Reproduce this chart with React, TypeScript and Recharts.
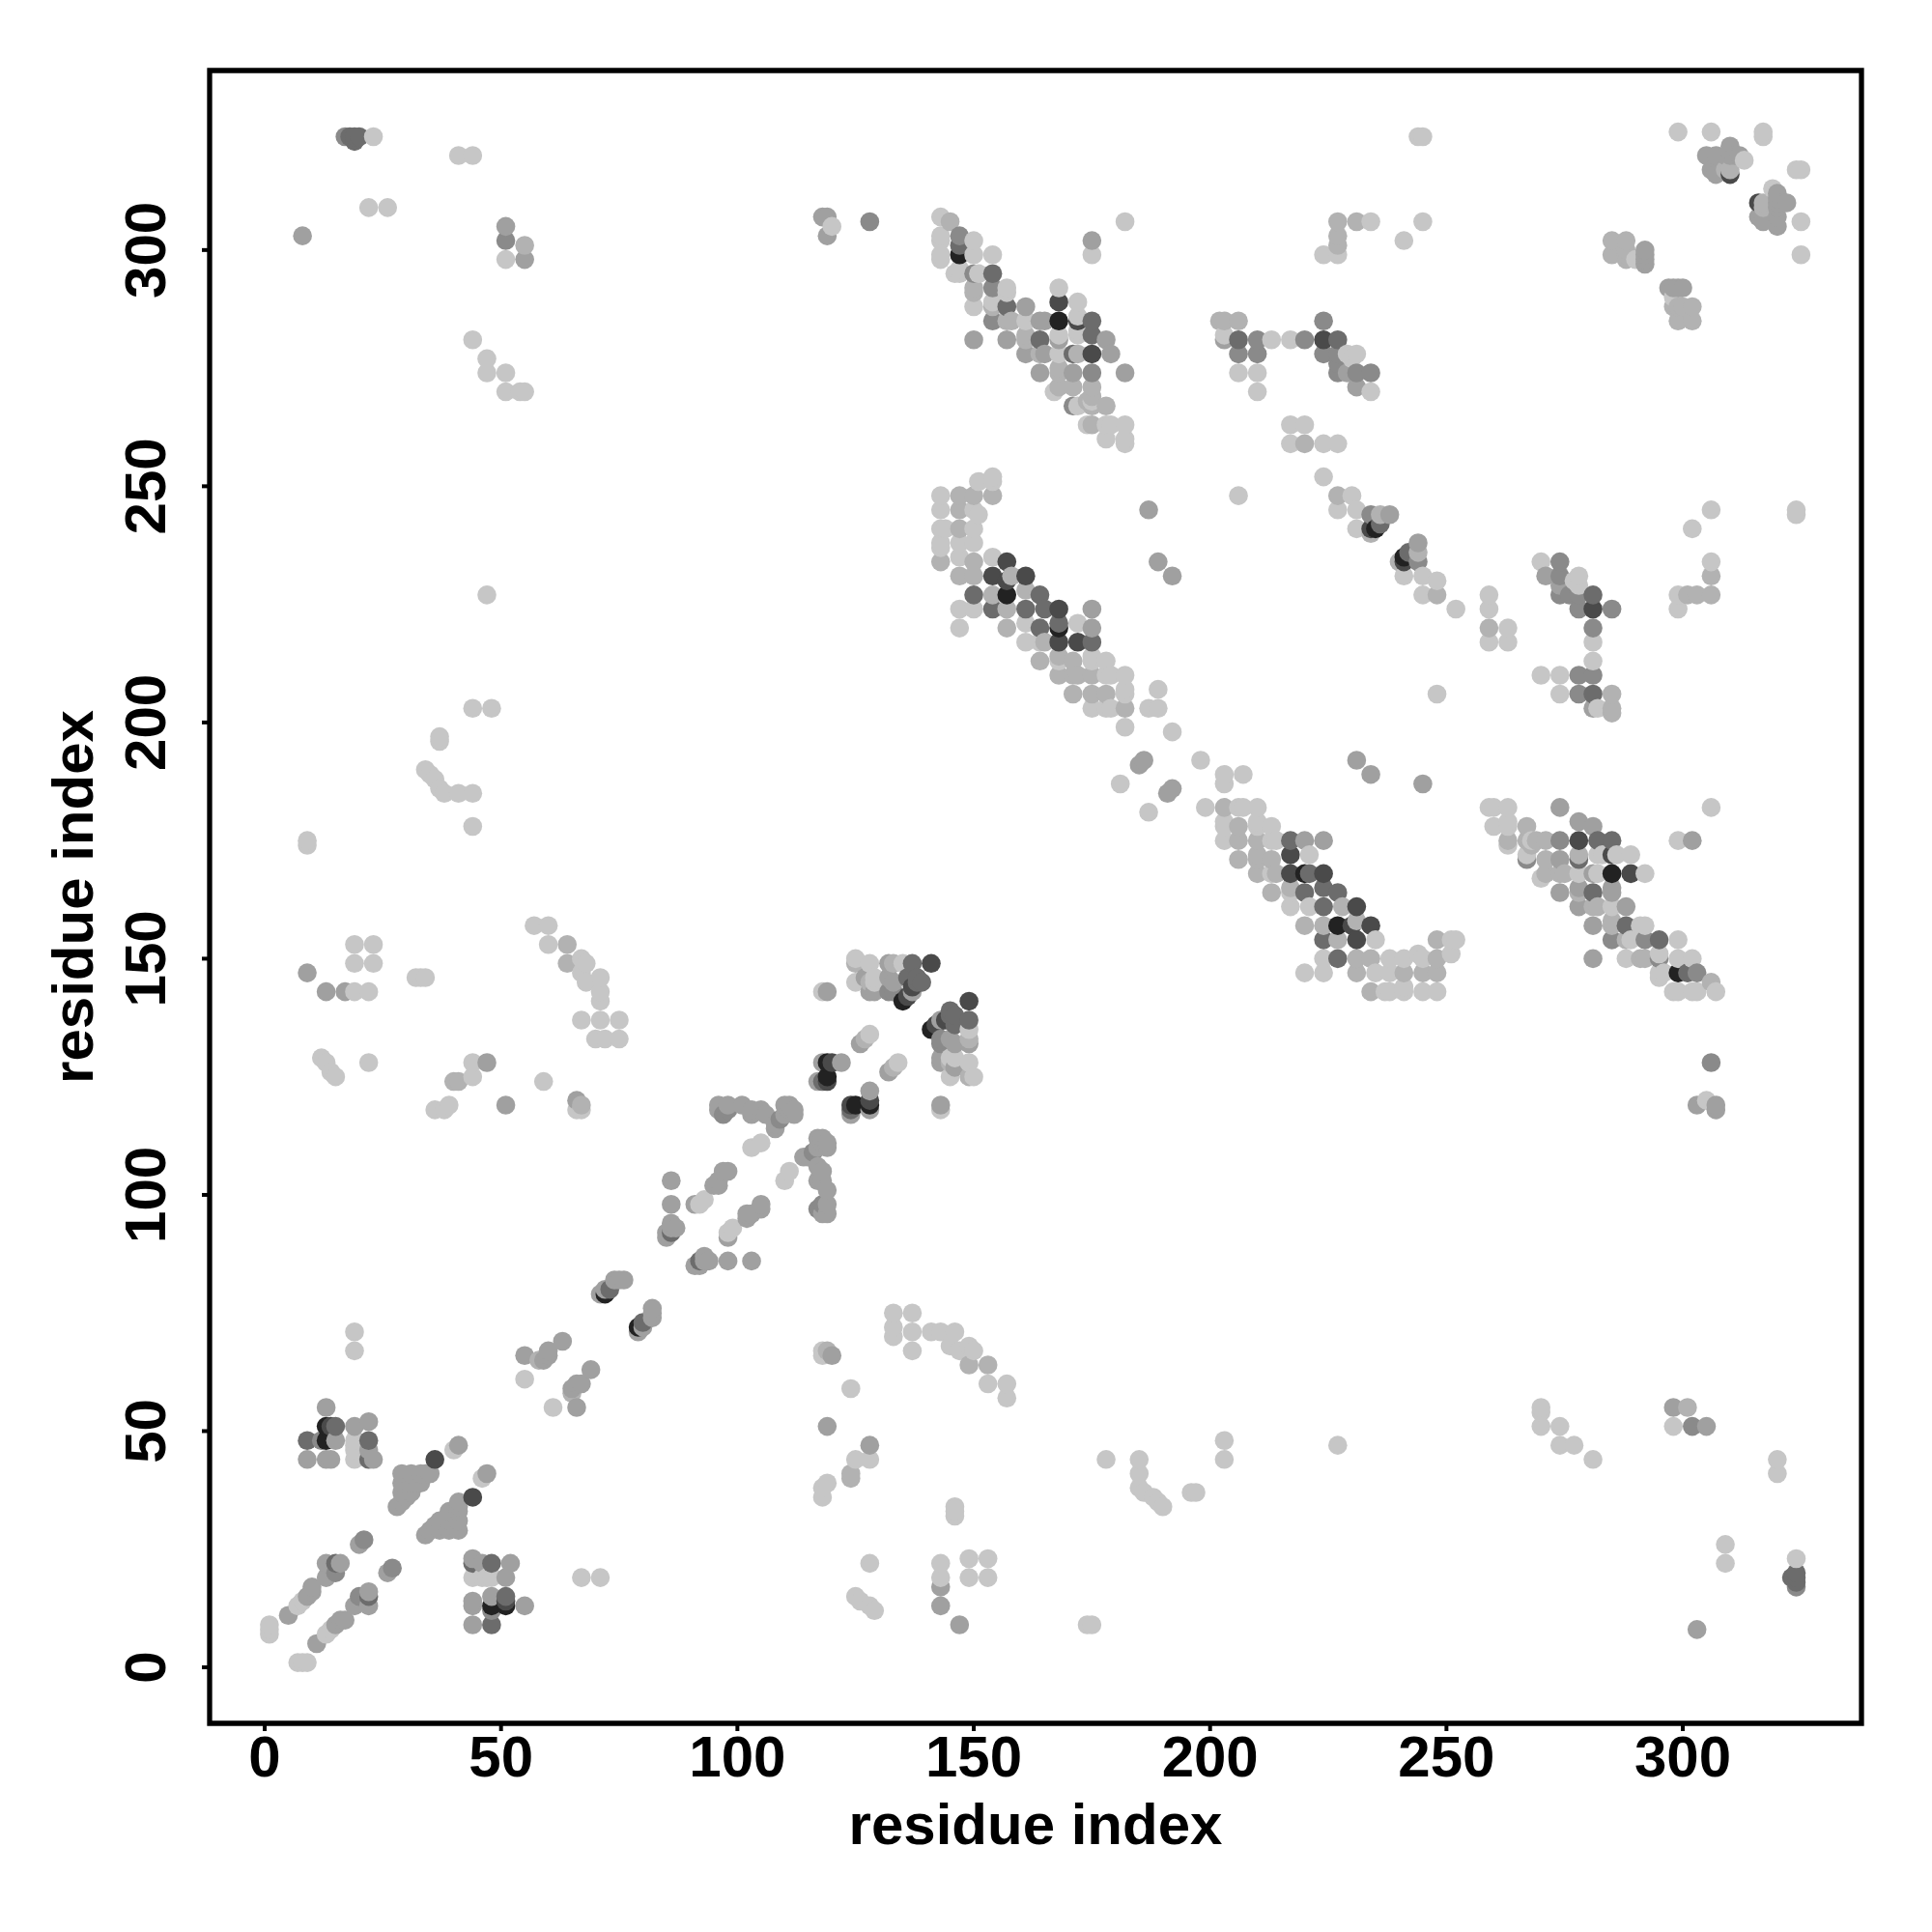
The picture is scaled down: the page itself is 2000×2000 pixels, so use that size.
import { ScatterChart, Scatter, XAxis, YAxis, ReferenceArea } from 'recharts'

// residue contact map, symmetric: only pairs [i, j] with i < j are listed, the mirror is added below
const contactsPale = [
  [1, 7], [1, 8], [1, 9], [7, 13], [8, 14], [19, 71], [19, 67], [19, 44], [19, 46], [19, 47], [19, 48], [23, 324],
  [22, 309], [26, 309], [41, 320], [44, 320], [51, 298], [44, 281], [47, 277], [47, 274], [51, 274], [51, 270],
  [54, 270], [55, 270], [47, 227], [44, 203], [48, 203], [37, 197], [37, 196], [34, 190], [35, 189], [36, 188],
  [37, 186], [38, 185], [41, 185], [44, 185], [44, 178], [9, 175], [9, 174], [19, 143], [22, 143], [19, 149],
  [19, 153], [23, 153], [23, 149], [32, 146], [33, 146], [34, 146], [12, 129], [13, 128], [14, 126], [15, 125],
  [22, 128], [44, 128], [44, 125], [36, 118], [38, 118], [39, 119], [59, 124], [57, 157], [60, 157], [60, 153],
  [67, 150], [68, 149], [67, 147], [68, 145], [71, 146], [71, 143], [71, 141], [67, 137], [71, 137], [75, 137],
  [70, 133], [72, 133], [75, 133], [66, 118], [67, 118], [55, 61], [40, 46], [103, 110], [105, 111], [92, 98],
  [93, 99], [118, 143], [128, 134], [125, 150], [125, 145], [128, 149], [129, 145], [135, 149], [129, 146],
  [120, 305], [143, 307], [143, 303], [143, 299], [143, 298], [143, 302], [150, 302], [150, 299], [154, 299],
  [146, 295], [147, 295], [147, 296], [151, 295], [157, 292], [157, 291], [150, 288], [154, 289], [161, 285],
  [168, 292], [172, 289], [172, 286], [172, 283], [172, 282], [168, 278], [168, 282], [167, 270], [172, 267],
  [174, 263], [178, 263], [182, 263], [178, 260], [179, 263], [175, 268], [182, 260], [182, 259], [182, 306],
  [175, 299], [154, 252], [151, 251], [154, 251], [143, 248], [143, 245], [150, 245], [151, 244], [143, 241],
  [144, 241], [150, 241], [143, 238], [143, 237], [147, 238], [150, 238], [147, 235], [154, 235], [147, 224],
  [150, 224], [147, 220], [161, 221], [161, 217], [164, 217], [175, 214], [178, 213], [178, 210], [182, 210],
  [172, 221], [182, 207], [175, 203], [178, 203], [182, 199], [187, 203], [189, 203], [189, 207], [192, 198],
  [181, 187], [182, 206], [179, 203], [179, 210], [168, 213], [175, 213], [203, 282], [213, 281], [217, 281],
  [229, 278], [231, 278], [206, 274], [210, 274], [210, 270], [234, 270], [217, 263], [220, 263], [217, 259],
  [220, 259], [224, 259], [227, 259], [224, 252], [227, 248], [230, 248], [227, 245], [231, 245], [231, 241],
  [240, 234], [241, 231], [245, 231], [248, 230], [245, 227], [252, 224], [206, 248], [302, 241], [306, 234],
  [299, 227], [299, 224], [270, 234], [278, 231], [277, 230], [281, 217], [281, 213], [274, 210], [270, 210],
  [274, 206], [282, 203], [263, 220], [263, 217], [259, 227], [259, 224], [259, 217], [299, 325], [306, 325],
  [317, 325], [317, 324], [313, 319], [290, 298], [285, 299], [227, 303], [224, 299], [227, 299], [234, 306],
  [241, 302], [245, 306], [244, 324], [245, 324],
]

const contactsLight = [
  [58, 65], [64, 153], [64, 149], [67, 119], [55, 301], [40, 124], [41, 124], [127, 133], [125, 149], [128, 145],
  [133, 149], [145, 306], [150, 292], [150, 291], [154, 288], [157, 285], [158, 285], [161, 281], [161, 282],
  [164, 278], [172, 278], [168, 275], [168, 274], [168, 271], [171, 271], [175, 271], [175, 269], [174, 268],
  [175, 263], [175, 267], [178, 267], [147, 248], [150, 248], [154, 248], [147, 245], [147, 241], [143, 234],
  [150, 234], [147, 231], [158, 231], [150, 231], [154, 227], [161, 228], [157, 224], [157, 220], [164, 213],
  [165, 217], [168, 214], [168, 210], [171, 213], [171, 210], [171, 206], [172, 210], [175, 210], [175, 206],
  [178, 206], [182, 203], [202, 285], [203, 285], [206, 285], [234, 240], [236, 244], [244, 236], [248, 227],
  [306, 231], [303, 227], [301, 227], [306, 227], [285, 206], [285, 203], [285, 202], [259, 220], [285, 302],
  [288, 302], [288, 299], [298, 288], [300, 288], [302, 288], [299, 285], [302, 285], [317, 309], [310, 317],
]

const contactsMid = [
  [8, 303], [13, 55], [9, 44], [13, 44], [14, 44], [23, 44], [22, 46], [15, 48], [19, 51], [22, 52], [41, 47],
  [13, 22], [16, 22], [13, 19], [10, 17], [9, 15], [10, 16], [5, 11], [20, 26], [29, 41], [31, 41], [33, 41],
  [34, 41], [35, 41], [29, 39], [31, 39], [33, 39], [29, 37], [31, 37], [30, 36], [28, 34], [29, 35], [51, 305],
  [55, 298], [13, 143], [17, 143], [9, 147], [47, 128], [51, 119], [66, 120], [55, 66], [59, 65], [60, 66],
  [63, 69], [60, 67], [71, 79], [72, 80], [74, 82], [75, 82], [76, 82], [86, 103], [86, 98], [86, 94], [87, 93],
  [85, 91], [85, 92], [91, 98], [95, 102], [96, 103], [98, 105], [97, 105], [96, 102], [86, 93], [96, 118],
  [96, 119], [98, 119], [101, 119], [103, 117], [103, 118], [105, 118], [106, 117], [108, 115], [108, 114],
  [110, 119], [111, 118], [112, 118], [110, 117], [111, 119], [112, 117], [119, 143], [117, 124], [118, 128],
  [122, 128], [126, 132], [132, 149], [128, 143], [133, 145], [132, 146], [137, 143], [118, 307], [119, 307],
  [119, 303], [129, 143], [127, 146], [161, 288], [164, 285], [165, 285], [150, 281], [157, 281], [168, 281],
  [178, 281], [161, 278], [165, 278], [179, 278], [164, 274], [171, 274], [182, 274], [175, 302], [187, 245],
  [189, 234], [192, 231], [175, 224], [175, 220], [186, 192], [185, 191], [203, 281], [210, 281], [220, 281],
  [224, 285], [206, 278], [210, 278], [224, 278], [231, 271], [238, 244], [244, 238], [271, 231], [274, 229],
  [281, 203], [305, 320], [307, 320], [306, 317], [310, 322], [311, 320], [310, 320], [312, 320], [310, 321],
  [307, 316], [309, 320], [292, 299], [292, 298], [292, 297], [292, 300],
]

const contactsSlate = [
  [17, 324], [21, 27], [15, 20], [12, 48], [51, 302], [128, 306], [97, 117], [98, 118], [109, 116], [147, 303],
  [150, 295], [154, 292], [154, 285], [175, 274], [234, 244], [231, 274], [227, 274], [234, 274], [227, 278],
  [206, 281], [244, 234], [274, 234], [274, 231], [274, 227], [278, 227], [276, 227], [278, 224], [285, 224],
  [281, 220], [281, 210], [278, 210], [278, 206], [132, 143], [133, 143], [171, 267],
]

const contactsDim = [
  [19, 324], [18, 324], [19, 323], [20, 324], [9, 48], [15, 51], [22, 48], [22, 44], [15, 22], [86, 92], [73, 80],
  [118, 124], [136, 146], [138, 145], [139, 145], [137, 149], [138, 146], [147, 301], [154, 295], [157, 288],
  [175, 285], [175, 282], [164, 281], [171, 278], [150, 227], [154, 224], [164, 227], [161, 224], [165, 224],
  [164, 220], [168, 221], [175, 217], [227, 281], [235, 241], [236, 242], [281, 227], [281, 206],
]

const contactsDark = [
  [14, 51], [36, 44], [141, 149], [137, 144], [136, 142], [120, 128], [119, 124], [168, 289], [172, 285], [175, 278],
  [157, 234], [154, 231], [157, 230], [161, 231], [168, 224], [168, 217], [172, 217], [224, 281], [234, 241],
  [281, 224], [310, 316],
]

const contactsBlack = [
  [13, 51], [13, 48], [72, 79], [119, 125], [119, 128], [135, 141], [147, 299], [168, 285], [157, 227], [168, 220],
  [235, 241],
]

const shadeGroups: [number[][], string][] = [
  [contactsPale, '#c6c6c6'],
  [contactsLight, '#b2b2b2'],
  [contactsMid, '#a0a0a0'],
  [contactsSlate, '#8a8a8a'],
  [contactsDim, '#6c6c6c'],
  [contactsDark, '#4a4a4a'],
  [contactsBlack, '#222222'],
]

const tickValues = [0, 50, 100, 150, 200, 250, 300]

const byCell = new Map<string, { x: number; y: number; fill: string }>()
shadeGroups.forEach(([pairs, fill]) => {
  pairs.forEach(([i, j]) => {
    byCell.set(`${i},${j}`, { x: i, y: j, fill })
    byCell.set(`${j},${i}`, { x: j, y: i, fill })
  })
})
// the original plot draws in index order, so later columns sit on top
const points = [...byCell.values()].sort((p, q) => p.x - q.x || p.y - q.y)

const FONT = '"Liberation Sans", Arial, sans-serif'

function XTick({ x, y, payload }: any) {
  return (
    <text x={x} y={y + 45} textAnchor="middle" fontFamily={FONT} fontWeight="bold" fontSize={60} fill="#000">
      {payload.value}
    </text>
  )
}

function YTick({ x, y, payload }: any) {
  return (
    <text
      transform={`translate(${x - 36},${y}) rotate(-90)`}
      textAnchor="middle"
      fontFamily={FONT}
      fontWeight="bold"
      fontSize={60}
      fill="#000"
    >
      {payload.value}
    </text>
  )
}

function Dot({ cx, cy, payload }: any) {
  return <circle cx={cx} cy={cy} r={9.8} fill={payload.fill} />
}

const xDomain: [number, number] = [-11.65, 337.8]
const yDomain: [number, number] = [-11.86, 338]

export default function App() {
  return (
    <div style={{ position: 'absolute', left: 0, top: 0, background: '#fff' }}>
      <ScatterChart width={2000} height={2000} margin={{ top: 73, right: 73, bottom: 0, left: 0 }}>
        <XAxis
          type="number"
          dataKey="x"
          domain={xDomain}
          ticks={tickValues}
          allowDataOverflow
          height={216}
          axisLine={false}
          tickLine={{ stroke: '#000', strokeWidth: 4 }}
          tickSize={8}
          tick={<XTick />}
          interval={0}
          label={{
            value: 'residue index',
            position: 'insideBottom',
            offset: 91,
            fontFamily: FONT,
            fontWeight: 'bold',
            fontSize: 60,
            fill: '#000',
          }}
        />
        <YAxis
          type="number"
          dataKey="y"
          domain={yDomain}
          ticks={tickValues}
          allowDataOverflow
          width={217}
          axisLine={false}
          tickLine={{ stroke: '#000', strokeWidth: 4 }}
          tickSize={8}
          tick={<YTick />}
          interval={0}
          label={{
            value: 'residue index',
            angle: -90,
            position: 'insideLeft',
            offset: 75,
            style: { textAnchor: 'middle' },
            fontFamily: FONT,
            fontWeight: 'bold',
            fontSize: 60,
            fill: '#000',
          }}
        />
        <Scatter data={points} shape={<Dot />} isAnimationActive={false} />
        <ReferenceArea
          x1={xDomain[0]}
          x2={xDomain[1]}
          y1={yDomain[0]}
          y2={yDomain[1]}
          fill="none"
          stroke="#000"
          strokeWidth={5.3}
          ifOverflow="visible"
        />
      </ScatterChart>
    </div>
  )
}
